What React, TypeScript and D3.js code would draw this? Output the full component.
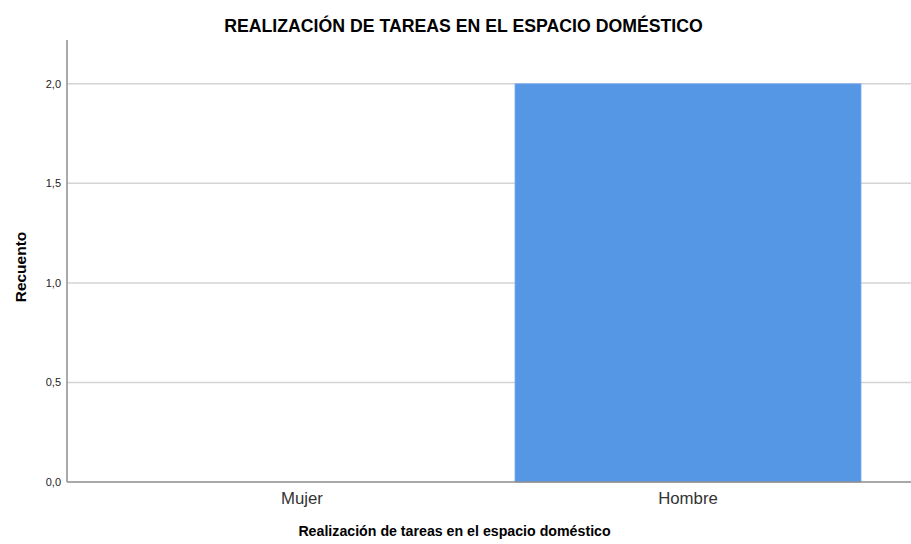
import React from "react";
import * as d3 from "d3";

const categories = ["Mujer", "Hombre"];
const counts = [0, 2];
const yTicks = [0, 0.5, 1.0, 1.5, 2.0];
const title = "REALIZACIÓN DE TAREAS EN EL ESPACIO DOMÉSTICO";
const xTitle = "Realización de tareas en el espacio doméstico";
const yTitle = "Recuento";

export default function App() {
  const W = 911, H = 544;
  const left = 67, top = 40, bottom = 482;
  const y = d3.scaleLinear().domain([0, 2.22]).range([bottom, top]);
  const x = d3.scaleBand<string>().domain(categories).range([left, 923]).paddingInner(0.1036).paddingOuter(0.1606);
  const fmt = (v: number) => v.toFixed(1).replace(".", ",");
  const font = "'Liberation Sans', Arial, sans-serif";
  return (
    <svg width={W} height={H} style={{ position: "absolute", left: 0, top: 0, background: "#fff" }} fontFamily={font}>
      <rect x={0} y={0} width={W} height={H} fill="#fff" />
      <text x={463.5} y={32} textAnchor="middle" fontSize={17.7} fontWeight="bold" fill="#000">{title}</text>
      {yTicks.map((t) => (
        <g key={t}>
          {t > 0 && <line x1={left} x2={W} y1={y(t)} y2={y(t)} stroke="#d4d4d4" strokeWidth={1.5} />}
          <text x={61} y={y(t) + 4} textAnchor="end" fontSize={11} fill="#222">{fmt(t)}</text>
        </g>
      ))}
      {categories.map((c, i) => (
        counts[i] > 0 ? (
          <rect key={c} x={x(c)!} y={y(counts[i])} width={x.bandwidth()} height={y(0) - y(counts[i])} fill="#5596e5" stroke="#7aaef0" strokeWidth={0.8} />
        ) : null
      ))}
      <line x1={left} x2={left} y1={top} y2={bottom} stroke="#8c8c8c" strokeWidth={1.5} />
      <line x1={left} x2={W} y1={bottom} y2={bottom} stroke="#8c8c8c" strokeWidth={1.5} />
      {categories.map((c) => (
        <text key={c} x={x(c)! + x.bandwidth() / 2} y={504} textAnchor="middle" fontSize={16.8} fill="#333">{c}</text>
      ))}
      <text x={454.5} y={536} textAnchor="middle" fontSize={14.2} fontWeight="bold" fill="#000">{xTitle}</text>
      <text transform={`translate(25.5, 267) rotate(-90)`} textAnchor="middle" fontSize={15.5} fontWeight="bold" fill="#000">{yTitle}</text>
    </svg>
  );
}
